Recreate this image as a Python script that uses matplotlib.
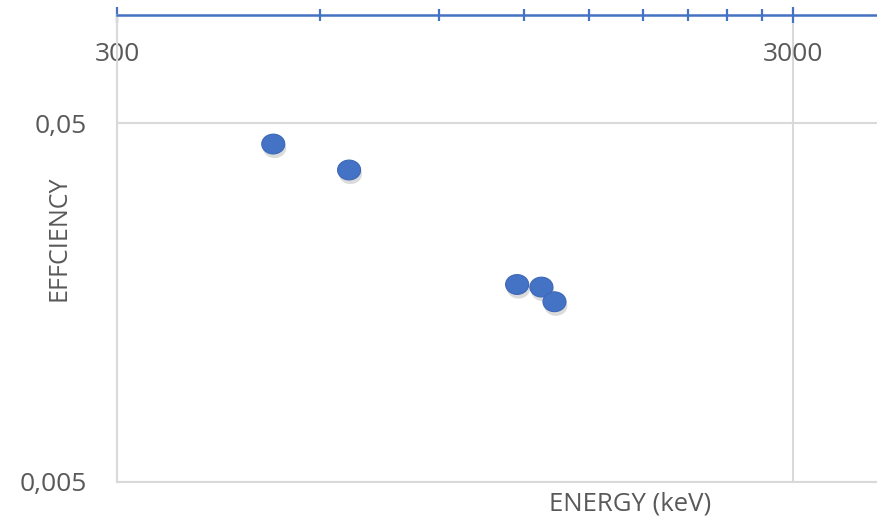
import matplotlib
matplotlib.use("Agg")
import matplotlib.pyplot as plt
import matplotlib.ticker as mticker
import matplotlib.patheffects as pe
from matplotlib.path import Path
import numpy as np

# ---- data ----
energy_kev = [511.0, 661.7, 1173.2, 1274.5, 1332.5]
efficiency = [0.0437, 0.0370, 0.01775, 0.01746, 0.01589]

x_major_ticks = [300, 3000]
x_minor_ticks = [600, 900, 1200, 1500, 1800, 2100, 2400, 2700]
x_tick_labels = ["300", "3000"]
y_major_ticks = [0.005, 0.05]
y_tick_labels = ["0,005", "0,05"]
x_limits = (300, 4000)
y_limits = (0.005, 0.1)
x_title = "ENERGY (keV)"
y_title = "EFFCIENCY"

# ---- style ----
plt.rcParams['font.family'] = ['Open Sans', 'DejaVu Sans']
text_color = '#595959'
grid_color = '#D9D9D9'
axis_blue = '#4472C4'
marker_blue = '#4472C4'

fig = plt.figure(figsize=(8.77, 5.19), dpi=100)
ax = fig.add_axes([117/877, 1-482/519, 1-117/877, (482-15)/519])

ax.set_xscale('log')
ax.set_yscale('log')
ax.set_xlim(*x_limits)
ax.set_ylim(*y_limits)

# elliptical marker (slightly wider than tall, as in the reference)
circ = Path.unit_circle()
ell = Path(circ.vertices * np.array([1.0, 0.86]), circ.codes)

sc = ax.scatter(energy_kev, efficiency, s=23**2 * 0.52, marker=ell,
                color=marker_blue, edgecolor='#3D68B8', linewidth=0.8, zorder=5)
sc.set_path_effects([pe.SimplePatchShadow(offset=(1.0, -3.0), shadow_rgbFace='#8a8a8a', alpha=0.3),
                     pe.Normal()])

# ticks
ax.xaxis.set_major_locator(mticker.FixedLocator(x_major_ticks))
ax.xaxis.set_major_formatter(mticker.FixedFormatter(x_tick_labels))
ax.xaxis.set_minor_locator(mticker.FixedLocator(x_minor_ticks))
ax.xaxis.set_minor_formatter(mticker.NullFormatter())
ax.yaxis.set_major_locator(mticker.FixedLocator(y_major_ticks))
ax.yaxis.set_major_formatter(mticker.FixedFormatter(y_tick_labels))
ax.yaxis.set_minor_locator(mticker.NullLocator())

ax.tick_params(axis='x', which='both', top=True, bottom=False, labeltop=True,
               labelbottom=False, direction='inout', color=axis_blue, width=1.6)
ax.tick_params(axis='x', which='major', length=11, pad=-43, labelsize=19, labelcolor=text_color)
ax.tick_params(axis='x', which='minor', length=9)
ax.tick_params(axis='y', which='both', left=False, right=False, labelsize=19,
               labelcolor=text_color, pad=18)

# spines
ax.spines['top'].set_color(axis_blue)
ax.spines['top'].set_linewidth(1.8)
ax.spines['right'].set_visible(False)
ax.spines['left'].set_color(grid_color)
ax.spines['left'].set_linewidth(1.5)
ax.spines['bottom'].set_color(grid_color)
ax.spines['bottom'].set_linewidth(1.5)

ax.grid(True, which='major', color=grid_color, linewidth=1.5)
ax.set_axisbelow(True)

ax.set_ylabel(y_title, fontsize=18, color=text_color)
ax.yaxis.set_label_coords((71 - 117) / 760, (482 - 238) / 467)
fig.text(630/877, 1-504/519, x_title, fontsize=18.5, color=text_color,
         ha='center', va='center')

fig.savefig('out.png', dpi=100)
